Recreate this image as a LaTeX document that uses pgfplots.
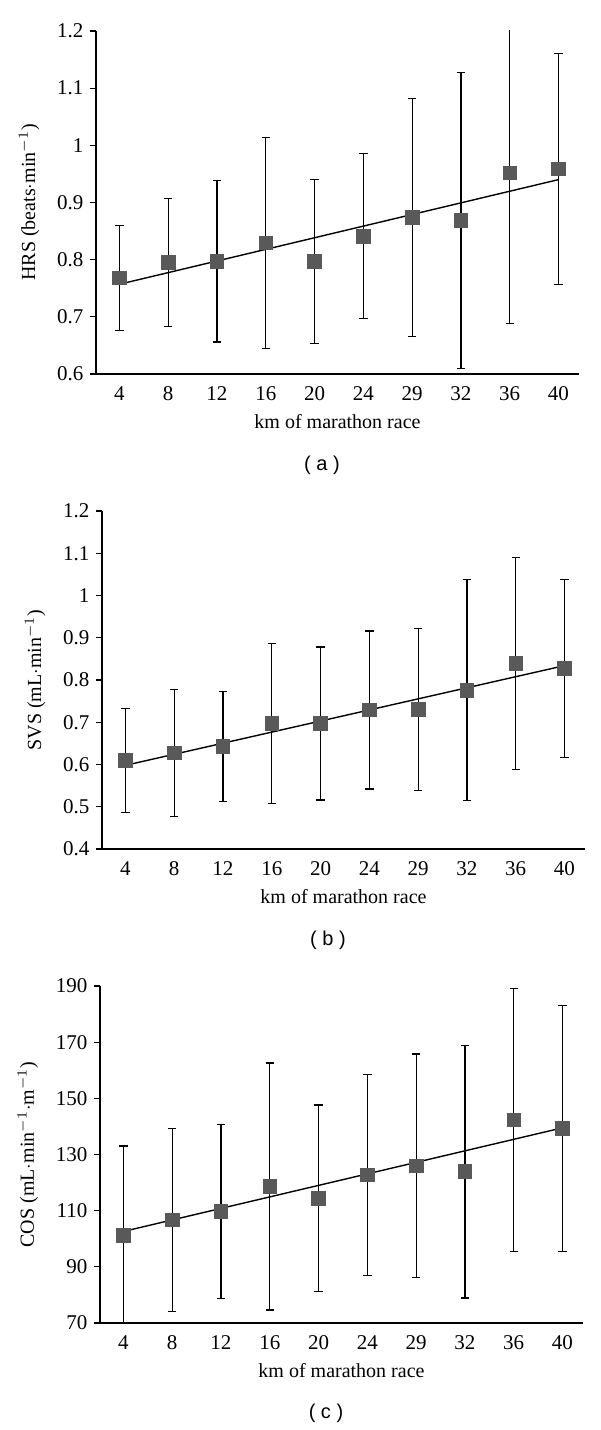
\documentclass[border=0pt]{standalone}
\usepackage{fontspec}
\setmainfont{Liberation Serif}
\newfontfamily\labfont{Liberation Sans}
\usepackage{pgfplots}
\pgfplotsset{compat=1.18}
\usepackage{pgfplotstable}

\definecolor{markgray}{RGB}{89,89,89}

% x = category index (4,8,12,16,20,24,29,32,36,40 km), y = mean, e = error
\pgfplotstableread{
x y e
0 0.768 0.092
1 0.795 0.112
2 0.797 0.141
3 0.829 0.185
4 0.797 0.143
5 0.841 0.144
6 0.874 0.208
7 0.869 0.259
8 0.952 0.264
9 0.959 0.202
}\hrsdata

\pgfplotstableread{
x y e
0 0.609 0.123
1 0.627 0.150
2 0.643 0.130
3 0.697 0.190
4 0.697 0.181
5 0.729 0.187
6 0.730 0.192
7 0.776 0.261
8 0.839 0.251
9 0.827 0.211
}\svsdata

\pgfplotstableread{
x y e
0 101.2 31.8
1 106.7 32.5
2 109.7 31.0
3 118.6 44.0
4 114.4 33.2
5 122.7 35.7
6 126.0 39.8
7 123.9 45.0
8 142.3 46.7
9 139.2 43.8
}\cosdata

\pgfplotsset{
  marapanel/.style={
    scale only axis, width=241.5pt, anchor=south west,
    xmin=-0.48, xmax=9.42,
    axis lines=left, axis line style={-, line width=0.6pt},
    xtick={0,...,9}, xticklabels={4,8,12,16,20,24,29,32,36,40},
    x tick style={draw=none},
    y tick style={black, line width=0.6pt},
    tick align=outside, major tick length=2.8pt,
    xlabel={km of marathon race},
    font=\fontsize{10}{12}\selectfont,
    tick label style={font=\fontsize{10.5}{12}\selectfont},
    ylabel style={xshift=0pt, yshift=2pt},
    /pgf/number format/assume math mode=true,
  },
  means/.style={only marks, mark=square*, mark size=3.4pt,
    mark options={fill=markgray, draw=markgray},
    error bars/.cd, y dir=both, y explicit,
    error mark=|,
    error bar style={draw=black, line width=0.6pt},
    error mark options={draw=black, mark size=2.1pt, line width=0.6pt}},
  trend/.style={black, line width=0.7pt, mark=none},
}

\begin{document}
\begin{tikzpicture}
\useasboundingbox (0,0) rectangle (300pt,715pt);

% (a) HRS
\begin{axis}[marapanel, at={(48pt,528pt)}, height=171.5pt,
  ymin=0.6, ymax=1.2, ytick={0.6,0.7,0.8,0.9,1,1.1,1.2},
  ylabel={HRS (beats$\cdot$min$^{-1}$)}]
  \addplot[means] table[x=x, y=y, y error=e] {\hrsdata};
  \addplot[trend] coordinates {(0,0.757) (9,0.940)};
\end{axis}
\node[font=\labfont\fontsize{10}{12}\selectfont] at (161pt,482.5pt) {( a )};

% (b) SVS
\begin{axis}[marapanel, at={(51pt,290.5pt)}, height=169pt,
  ymin=0.4, ymax=1.2, ytick={0.4,0.5,0.6,0.7,0.8,0.9,1,1.1,1.2},
  ylabel={SVS (mL$\cdot$min$^{-1}$)}]
  \addplot[means] table[x=x, y=y, y error=e] {\svsdata};
  \addplot[trend] coordinates {(0,0.598) (9,0.834)};
\end{axis}
\node[font=\labfont\fontsize{10}{12}\selectfont] at (164pt,245pt) {( b )};

% (c) COS
\begin{axis}[marapanel, at={(50pt,53.5pt)}, height=168.5pt,
  ymin=70, ymax=190, ytick={70,90,110,130,150,170,190},
  ylabel={COS (mL$\cdot$min$^{-1}\cdot$m$^{-1}$)}]
  \addplot[means] table[x=x, y=y, y error=e] {\cosdata};
  \addplot[trend] coordinates {(0,102.6) (9,139.5)};
\end{axis}
\node[font=\labfont\fontsize{10}{12}\selectfont] at (163pt,8.5pt) {( c )};

\end{tikzpicture}
\end{document}
